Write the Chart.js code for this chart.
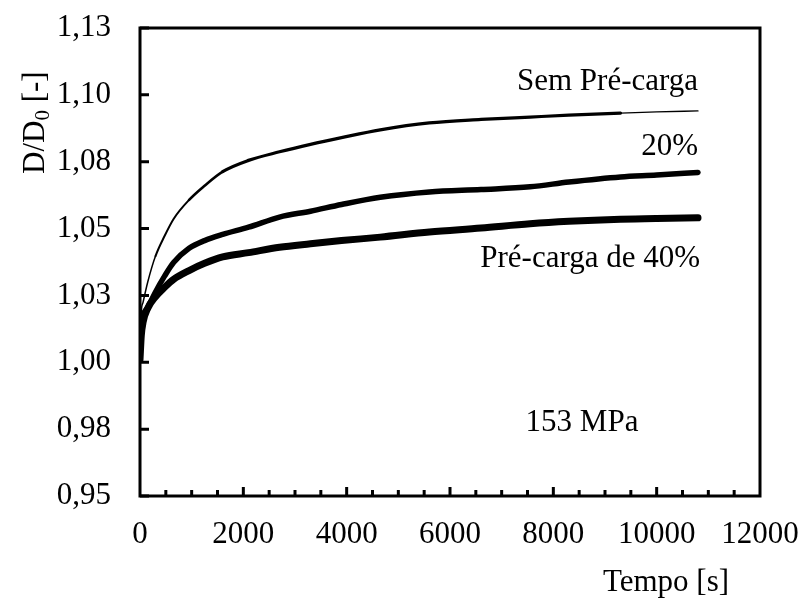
<!DOCTYPE html>
<html>
<head>
<meta charset="utf-8">
<title>D/D0 x Tempo</title>
<script src="https://cdn.jsdelivr.net/npm/chart.js@4.4.1/dist/chart.umd.min.js"></script>
<style>
html, body { margin: 0; padding: 0; background: #fff; }
canvas { display: block; }
</style>
</head>
<body>
<canvas id="grafico" width="803" height="599"></canvas>
<script>
// tempo [s] comum aos tres ensaios
var tempo = [0, 25, 60, 150, 300, 475, 650, 950, 1250, 1600, 2100, 2700, 3300, 3900, 4650, 5600, 6600, 7550, 8300, 9300, 10000, 10800];

// D/D0 medido
var semPreCarga = [1.006, 1.019, 1.0225, 1.030, 1.0397, 1.0472, 1.0536, 1.0607, 1.066, 1.0713, 1.0755, 1.0787, 1.0815, 1.084, 1.0869, 1.0895, 1.0908, 1.0917, 1.0924, 1.0932, 1.0936, 1.094];
var preCarga20 = [1.003, 1.013, 1.0174, 1.0205, 1.0263, 1.0322, 1.0373, 1.0426, 1.0455, 1.0478, 1.0505, 1.0543, 1.0565, 1.059, 1.0617, 1.0637, 1.0646, 1.0656, 1.0674, 1.0693, 1.070, 1.071];
var preCarga40 = [1.001, 1.010, 1.015, 1.0202, 1.0245, 1.028, 1.031, 1.0343, 1.037, 1.0394, 1.041, 1.043, 1.0443, 1.0455, 1.0468, 1.0487, 1.0502, 1.0518, 1.0527, 1.0535, 1.0538, 1.054];

var xTicks = ['0', '2000', '4000', '6000', '8000', '10000', '12000'];
var yTicks = ['0,95', '0,98', '1,00', '1,03', '1,05', '1,08', '1,10', '1,13'];

var fonte = '"Liberation Serif", "Times New Roman", serif';

function pontos(valores) {
	return tempo.map(function (t, i) {
		return { x: t, y: valores[i] };
	});
}

// caixa, marcas internas e textos
var moldura = {
	id: 'moldura',
	afterDraw: function (chart) {
		var ctx = chart.ctx;
		var area = chart.chartArea;
		var sx = chart.scales.x;
		var sy = chart.scales.y;

		ctx.save();
		ctx.strokeStyle = '#000';
		ctx.lineWidth = 3;
		ctx.strokeRect(area.left, area.top, area.right - area.left, area.bottom - area.top);

		// marcas do eixo x: principais a cada 2000, secundarias a cada 500
		ctx.beginPath();
		for (var t = 500; t < 12000; t += 500) {
			var px = sx.getPixelForValue(t);
			var len = (t % 2000 == 0) ? 9 : 6;
			ctx.moveTo(px, area.bottom);
			ctx.lineTo(px, area.bottom - len);
		}
		sy.ticks.forEach(function (tk) {
			var py = sy.getPixelForValue(tk.value);
			ctx.moveTo(area.left, py);
			ctx.lineTo(area.left + 9, py);
		});
		ctx.stroke();

		ctx.fillStyle = '#000';
		ctx.font = '31px ' + fonte;
		ctx.textBaseline = 'alphabetic';

		ctx.textAlign = 'right';
		ctx.fillText('Sem Pré-carga', sx.getPixelForValue(10800), sy.getPixelForValue(1.1018));
		ctx.fillText('20%', sx.getPixelForValue(10800), sy.getPixelForValue(1.0775));
		ctx.fillText('Pré-carga de 40%', sx.getPixelForValue(10840), sy.getPixelForValue(1.0356));

		ctx.textAlign = 'center';
		ctx.fillText('153 MPa', sx.getPixelForValue(8555), sy.getPixelForValue(0.9743));

		// titulo do eixo x
		ctx.fillText('Tempo [s]', 666, 591);

		// titulo do eixo y, com D0 subscrito
		ctx.translate(44, 174);
		ctx.rotate(-Math.PI / 2);
		ctx.textAlign = 'left';
		ctx.fillText('D/D', 0, 0);
		var w = ctx.measureText('D/D').width;
		ctx.font = '21px ' + fonte;
		ctx.fillText('0', w, 5);
		w += ctx.measureText('0').width;
		ctx.font = '31px ' + fonte;
		ctx.fillText(' [-]', w, 0);
		ctx.restore();
	}
};

var grafico = new Chart(document.getElementById('grafico'), {
	type: 'line',
	data: {
		datasets: [{
			label: 'Sem Pré-carga',
			data: pontos(semPreCarga),
			borderColor: '#000',
			borderWidth: 2,
			segment: {
				// traco fino no inicio e no fim, mais grosso no meio
				borderWidth: function (c) {
					var t = c.p0.parsed.x;
					if (t < 300) return 1.5;
					if (t < 950) return 2;
					if (t < 1600) return 2.6;
					if (t >= 9300) return 1.3;
					return 3.2;
				}
			}
		}, {
			label: '20%',
			data: pontos(preCarga20),
			borderColor: '#000',
			borderWidth: 5.5
		}, {
			label: 'Pré-carga de 40%',
			data: pontos(preCarga40),
			borderColor: '#000',
			borderWidth: 7
		}]
	},
	options: {
		responsive: false,
		devicePixelRatio: 1,
		animation: false,
		layout: { padding: { top: 28, right: 43, bottom: 0, left: 0 } },
		elements: {
			point: { radius: 0 },
			line: { cubicInterpolationMode: 'monotone', borderCapStyle: 'round', borderJoinStyle: 'round', fill: false }
		},
		plugins: {
			legend: { display: false },
			tooltip: { enabled: false }
		},
		scales: {
			x: {
				type: 'linear',
				min: 0,
				max: 12000,
				grid: { display: false, drawTicks: false },
				border: { display: false },
				afterFit: function (scale) {
					scale.height = 103;
					scale.paddingLeft = 0;
					scale.paddingRight = 0;
				},
				ticks: {
					stepSize: 2000,
					padding: 20,
					maxRotation: 0,
					color: '#000',
					font: { family: fonte, size: 31 },
					callback: function (v, i) { return xTicks[i]; }
				}
			},
			y: {
				min: 0.95,
				max: 1.125,
				grid: { display: false, drawTicks: false },
				border: { display: false },
				afterFit: function (scale) {
					scale.width = 140;
					scale.paddingTop = 0;
					scale.paddingBottom = 0;
				},
				ticks: {
					stepSize: 0.025,
					padding: 29,
					color: '#000',
					font: { family: fonte, size: 31 },
					callback: function (v, i) { return yTicks[i]; }
				}
			}
		}
	},
	plugins: [moldura]
});
</script>
</body>
</html>
